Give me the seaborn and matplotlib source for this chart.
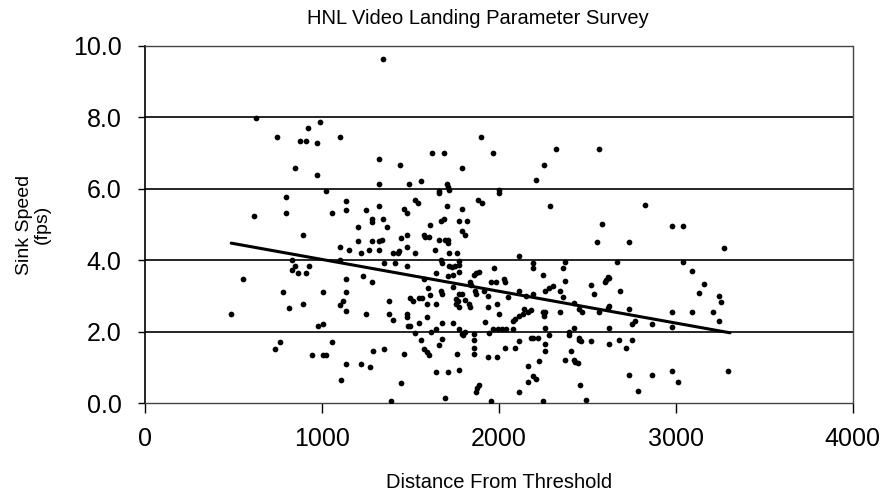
import matplotlib
matplotlib.use("Agg")
import matplotlib.pyplot as plt
import seaborn as sns
import pandas as pd

distance = [
    628, 986, 920, 745, 873, 907, 971, 1103, 1325, 845, 973, 1325, 1020, 798, 1133, 617, 796, 1055,
    1133, 1250, 1284, 1284, 1320, 1202,
    1344, 1899, 1622, 1692, 1969, 1443, 1790, 1492, 1560, 1705, 1711, 1720, 1660, 1660, 2210, 1999,
    1999, 1523, 1545, 1707, 1884, 1903, 1462, 1479, 1790, 1347, 1366, 1611, 1673, 1688, 1773, 1820,
    2323, 2568, 2257, 2291, 2828, 2583, 2976, 3042,
    892, 1103, 1151, 1202, 1284, 1219, 1268, 1321, 1321, 828, 845, 828, 863, 911, 924, 1103, 551,
    1135, 1234, 1284, 781, 1008, 1137, 815, 895, 1118, 1103, 1137, 1251, 487, 976, 1008, 764, 733,
    1057, 944, 1008, 1023, 1287, 1137, 1221, 1270, 1105,
    1447, 1479, 1579, 1583, 1607, 1664, 1698, 1711, 1711, 1792, 1811, 1340, 1479, 1400, 1428, 1434,
    1528, 1641, 1720, 1762, 2116,
    1353, 1415, 1479, 1673, 1677, 1720, 1735, 1749, 1777, 1773, 2195, 2195, 1645, 1711, 1743, 1773,
    1871, 1886, 1858, 1971, 1956, 1984, 2031, 2035, 1579, 1837, 1843, 1743, 1598, 1673, 1677, 1611,
    1777, 1792, 1758, 1768, 1811, 1862, 1871, 1918, 1937, 2050, 2116, 2154, 2195, 1498, 1513, 1551,
    1566, 1381, 1645, 1594, 1758, 1777, 1833, 1839, 1937, 1988, 1381, 1479, 1479, 1594, 2003, 2116,
    2134, 2163, 2182, 2144, 2088, 2078, 1400, 1547, 1485, 1498, 1679, 1743, 1924, 1645, 1617, 1777,
    1811, 1792, 1523, 1942, 1965, 1994, 2018, 2041, 2082,
    1858, 1858, 1560, 1679, 1664, 1799, 2116, 2182, 2195, 2219, 1353, 1579, 1592, 1603, 1858, 1858,
    2037, 2088, 1466, 1762, 1937, 1988, 2225, 1777, 1645, 1711, 2167, 2195, 2210, 2167, 1449, 1886,
    1877, 1871, 2116, 1698, 1956, 1391,
    2553, 2733, 2376, 2668, 3042, 2361, 3091, 2247, 2615, 2606, 2602, 2620, 2376, 2521, 2304, 2285,
    2263, 2346, 2685, 2540, 2361, 3133, 2427, 2620, 2615, 2455, 2470, 2568, 2247, 2263, 2252, 2346,
    2733, 2979, 3091, 2771, 2752, 2865, 2979, 2620, 2427, 2263, 2281, 2394, 2398, 2455, 2464, 2455,
    2521, 2681, 2752, 2620, 2718, 2263, 2263, 2410, 2376, 2423, 2432, 2445, 2733, 2865, 2979, 3012,
    2459, 2784, 2247, 2492,
    3274, 3161, 3242, 3257, 3208, 3242, 3295,
]

sink_speed = [
    7.97, 7.88, 7.71, 7.44, 7.35, 7.35, 7.27, 7.44, 6.84, 6.57, 6.38, 6.13, 5.94, 5.76, 5.67, 5.23,
    5.33, 5.33, 5.42, 5.42, 5.16, 5.07, 5.51, 4.93,
    9.64, 7.45, 7.01, 7.01, 7.01, 6.66, 6.58, 6.13, 6.22, 6.13, 6.05, 5.96, 5.94, 5.87, 6.24, 5.96,
    5.87, 5.69, 5.60, 5.52, 5.69, 5.60, 5.43, 5.33, 5.43, 5.16, 4.93, 5.00, 5.09, 5.16, 5.09, 5.09,
    7.12, 7.12, 6.67, 5.53, 5.55, 5.01, 4.95, 4.95,
    4.71, 4.36, 4.29, 4.55, 4.55, 4.19, 4.29, 4.29, 4.55, 4.00, 3.83, 3.74, 3.65, 3.65, 3.83, 4.02,
    3.48, 3.48, 3.56, 3.39, 3.11, 3.11, 3.11, 2.67, 2.77, 2.85, 2.76, 2.59, 2.51, 2.49, 2.16, 2.23,
    1.71, 1.52, 1.71, 1.36, 1.36, 1.36, 1.45, 1.10, 1.10, 1.01, 0.65,
    4.62, 4.71, 4.71, 4.65, 4.65, 4.57, 4.57, 4.48, 4.57, 4.81, 4.71, 4.57, 4.36, 4.19, 4.21, 4.27,
    4.19, 4.29, 4.19, 4.19, 4.13,
    3.91, 3.91, 3.83, 4.00, 3.91, 3.83, 3.81, 3.83, 3.99, 3.86, 3.93, 3.77, 3.65, 3.55, 3.58, 3.67,
    3.65, 3.67, 3.58, 3.77, 3.39, 3.39, 3.48, 3.39, 3.48, 3.39, 3.31, 3.25, 3.23, 3.15, 3.06, 3.04,
    3.06, 3.06, 2.92, 2.85, 2.89, 3.15, 3.06, 3.15, 3.01, 2.97, 3.15, 3.01, 3.06, 2.95, 2.87, 2.95,
    2.95, 2.85, 2.78, 2.78, 2.78, 2.70, 2.78, 2.68, 2.70, 2.78, 2.51, 2.51, 2.42, 2.42, 2.51, 2.44,
    2.51, 2.54, 2.61, 2.63, 2.35, 2.29, 2.32, 2.24, 2.16, 2.16, 2.24, 2.24, 2.26, 2.09, 1.99, 2.09,
    2.00, 1.93, 1.97, 1.97, 2.09, 2.09, 2.09, 2.09, 2.09,
    1.93, 1.78, 1.78, 1.81, 1.62, 1.91, 1.74, 1.83, 1.83, 1.83, 1.53, 1.53, 1.44, 1.36, 1.55, 1.38,
    1.55, 1.55, 1.38, 1.38, 1.28, 1.28, 1.19, 0.93, 0.86, 0.86, 1.03, 0.77, 0.68, 0.59, 0.56, 0.51,
    0.42, 0.32, 0.32, 0.15, 0.06, 0.06,
    4.50, 4.50, 3.94, 3.94, 3.96, 3.77, 3.69, 3.58, 3.53, 3.44, 3.39, 3.51, 3.42, 3.32, 3.27, 3.23,
    3.15, 3.15, 3.15, 3.06, 2.97, 3.08, 2.80, 2.73, 2.66, 2.63, 2.54, 2.54, 2.54, 2.54, 2.44, 2.54,
    2.63, 2.54, 2.56, 2.29, 2.21, 2.21, 2.12, 2.10, 2.10, 2.10, 1.91, 2.00, 1.91, 1.83, 1.74, 1.78,
    1.74, 1.76, 1.76, 1.66, 1.55, 1.66, 1.47, 1.47, 1.22, 1.22, 1.14, 1.12, 0.79, 0.79, 0.89, 0.60,
    0.51, 0.35, 0.07, 0.08,
    4.33, 3.34, 2.99, 2.82, 2.56, 2.29, 0.89,
]

trend_x = [487, 3306]
trend_y = [4.48, 1.97]

x_ticks = [0, 1000, 2000, 3000, 4000]
y_ticks = [0.0, 2.0, 4.0, 6.0, 8.0, 10.0]

title = "HNL Video Landing Parameter Survey"
x_label = "Distance From Threshold"
y_label = "Sink Speed\n(fps)"

df = pd.DataFrame({"distance": distance, "sink": sink_speed})
trend = pd.DataFrame({"x": trend_x, "y": trend_y})

sns.set_theme(style="white")
plt.rcParams["font.family"] = ["Liberation Sans", "DejaVu Sans"]
plt.rcParams["text.color"] = "black"
plt.rcParams["axes.labelcolor"] = "black"
plt.rcParams["xtick.color"] = "black"
plt.rcParams["ytick.color"] = "black"

fig = plt.figure(figsize=(8.87, 4.99), dpi=100)
ax = fig.add_axes([0.1635, 0.192, 0.798, 0.716])

for yv in y_ticks[1:-1]:
    ax.axhline(yv, color="black", lw=1.2, zorder=1)

sns.scatterplot(data=df, x="distance", y="sink", ax=ax, color="black",
                s=17, edgecolor="black", linewidth=0, zorder=3, legend=False)
sns.lineplot(data=trend, x="x", y="y", ax=ax, color="black", lw=2.2, zorder=4)

ax.set_xlim(0, 4000)
ax.set_ylim(0, 10)
ax.set_xticks(x_ticks)
ax.set_yticks(y_ticks)
ax.set_xticklabels([str(v) for v in x_ticks], fontsize=18, color="black")
ax.set_yticklabels([f"{v:.1f}" for v in y_ticks], fontsize=18, color="black")
ax.tick_params(axis="y", which="major", direction="out", length=5, width=1, color="black",
               left=True, pad=12)
ax.tick_params(axis="x", which="major", direction="out", length=7, width=1, color="black",
               bottom=True, pad=10)

ax.spines["left"].set_color("black")
ax.spines["left"].set_linewidth(1.2)
for side in ["top", "right", "bottom"]:
    ax.spines[side].set_color("#444444")
    ax.spines[side].set_linewidth(1.0)
    ax.spines[side].set_linestyle((0, (1, 1)))

ax.set_xlabel(x_label, fontsize=14.5, labelpad=16)
ax.set_ylabel(y_label, fontsize=14, labelpad=16, linespacing=1.0)
fig.text(0.539, 0.962, title, ha="center", va="center", fontsize=14.5)

fig.savefig("out.png", dpi=100)
